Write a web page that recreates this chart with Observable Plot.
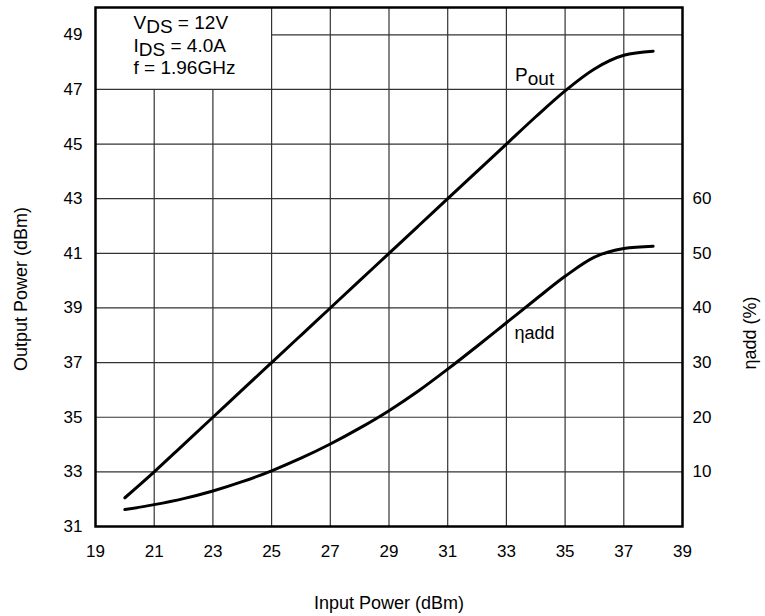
<!DOCTYPE html>
<html>
<head>
<meta charset="utf-8">
<script src="https://cdn.jsdelivr.net/npm/d3@7"></script>
<script src="https://cdn.jsdelivr.net/npm/@observablehq/plot@0.6"></script>
<style>
  html, body { margin: 0; padding: 0; background: #fff; }
  #chart { width: 765px; height: 616px; }
</style>
</head>
<body>
<div id="chart"></div>
<script>
// ---- data ----
const xTicks = [19, 21, 23, 25, 27, 29, 31, 33, 35, 37, 39];
const yTicks = [31, 33, 35, 37, 39, 41, 43, 45, 47, 49];
const etaTicks = [10, 20, 30, 40, 50, 60];
const pin  = [20, 21, 22, 23, 24, 25, 26, 27, 28, 29, 30, 31, 32, 33, 34, 35, 36, 37, 38];
const pout = [32.05, 33.0, 34.0, 35.0, 36.0, 37.0, 38.0, 39.0, 40.0, 41.0, 42.0, 43.0, 44.0, 45.0, 46.0, 46.95, 47.75, 48.25, 48.4];
const eta  = [3.1, 4.0, 5.1, 6.5, 8.2, 10.2, 12.5, 15.1, 18.0, 21.2, 24.8, 28.8, 33.0, 37.3, 41.6, 45.8, 49.3, 50.9, 51.3];
const legendLines = ["V_{DS} = 12V", "I_{DS} = 4.0A", "f = 1.96GHz"];

// right axis (ηadd %) mapped onto the left (dBm) scale: 0% at 31 dBm, 10% per 2 dBm
const etaToY = v => 31 + v / 5;
const yToEta = y => Math.round((y - 31) * 5);

const rows = pin.map((p, i) => ({pin: p, pout: pout[i], eta: eta[i]}));
const xGrid = xTicks.slice(1, -1);
const yGrid = yTicks.slice(1);

const font = "'Liberation Sans', Arial, Helvetica, sans-serif";

const chart = Plot.plot({
  width: 765,
  height: 616,
  marginLeft: 95,
  marginRight: 83,
  marginTop: 7,
  marginBottom: 90,
  style: {fontFamily: font, fontSize: "17px", color: "#000", background: "#fff"},
  x: {domain: [19, 39]},
  y: {domain: [31, 50]},
  marks: [
    // grid (legend box area at top-left is left clear)
    Plot.ruleX(xGrid, {x: d => d, y1: 31, y2: d => (d < 25 ? 47 : 50), stroke: "#333", strokeWidth: 1.2}),
    Plot.ruleY(yGrid, {y: d => d, x1: d => (d >= 49 ? 25 : 19), x2: 39, stroke: "#333", strokeWidth: 1.2}),
    Plot.frame({stroke: "#000", strokeWidth: 2.5}),
    // curves
    Plot.line(rows, {x: "pin", y: "pout", curve: "monotone-x", stroke: "#000", strokeWidth: 3}),
    Plot.line(rows, {x: "pin", y: d => etaToY(d.eta), curve: "monotone-x", stroke: "#000", strokeWidth: 3}),
    // axes
    Plot.axisX({ticks: xTicks, tickSize: 0, tickPadding: 18, label: null, fontSize: 17}),
    Plot.axisY({ticks: yTicks, tickSize: 0, tickPadding: 13, label: null, fontSize: 17}),
    Plot.axisY({anchor: "right", ticks: etaTicks.map(etaToY), tickFormat: yToEta, tickSize: 0, tickPadding: 10, label: null, fontSize: 17}),
    // axis titles
    Plot.text(["Output Power (dBm)"], {frameAnchor: "left", text: d => d, rotate: -90, textAnchor: "middle", lineAnchor: "middle", dx: -74, dy: 22, fontSize: 18}),
    Plot.text(["ηadd (%)"], {frameAnchor: "right", text: d => d, rotate: -90, textAnchor: "middle", lineAnchor: "middle", dx: 68, dy: 66, fontSize: 18}),
    Plot.text(["Input Power (dBm)"], {frameAnchor: "bottom", text: d => d, textAnchor: "middle", lineAnchor: "middle", dy: 77, fontSize: 18}),
    // legend box text
    Plot.text([legendLines[0]], {frameAnchor: "top-left", text: d => d, textAnchor: "start", lineAnchor: "middle", dx: 38, dy: 15, fontSize: 19}),
    Plot.text([legendLines[1]], {frameAnchor: "top-left", text: d => d, textAnchor: "start", lineAnchor: "middle", dx: 38, dy: 38, fontSize: 19}),
    Plot.text([legendLines[2]], {frameAnchor: "top-left", text: d => d, textAnchor: "start", lineAnchor: "middle", dx: 38, dy: 60, fontSize: 19}),
    // curve labels
    Plot.text(["P_{out}"], {x: 35, y: 47, text: d => d, textAnchor: "start", lineAnchor: "bottom", dx: -50, dy: -8, fontSize: 19}),
    Plot.text(["ηadd"], {x: 33, y: 38, text: d => d, textAnchor: "start", lineAnchor: "bottom", dx: 8, dy: 4, fontSize: 18})
  ]
});

// render subscripts written as _{...}
chart.querySelectorAll("text").forEach(t => {
  const s = t.textContent;
  if (!/_\{/.test(s)) return;
  const parts = s.split(/(_\{[^}]*\})/).filter(p => p.length);
  while (t.firstChild) t.removeChild(t.firstChild);
  const ns = "http://www.w3.org/2000/svg";
  let shifted = false;
  parts.forEach(p => {
    const ts = document.createElementNS(ns, "tspan");
    const m = p.match(/^_\{([^}]*)\}$/);
    if (m) {
      ts.textContent = m[1];
      ts.setAttribute("dy", "4");
      shifted = true;
    } else {
      ts.textContent = p;
      if (shifted) { ts.setAttribute("dy", "-4"); shifted = false; }
    }
    t.appendChild(ts);
  });
});

document.getElementById("chart").appendChild(chart);
</script>
</body>
</html>
